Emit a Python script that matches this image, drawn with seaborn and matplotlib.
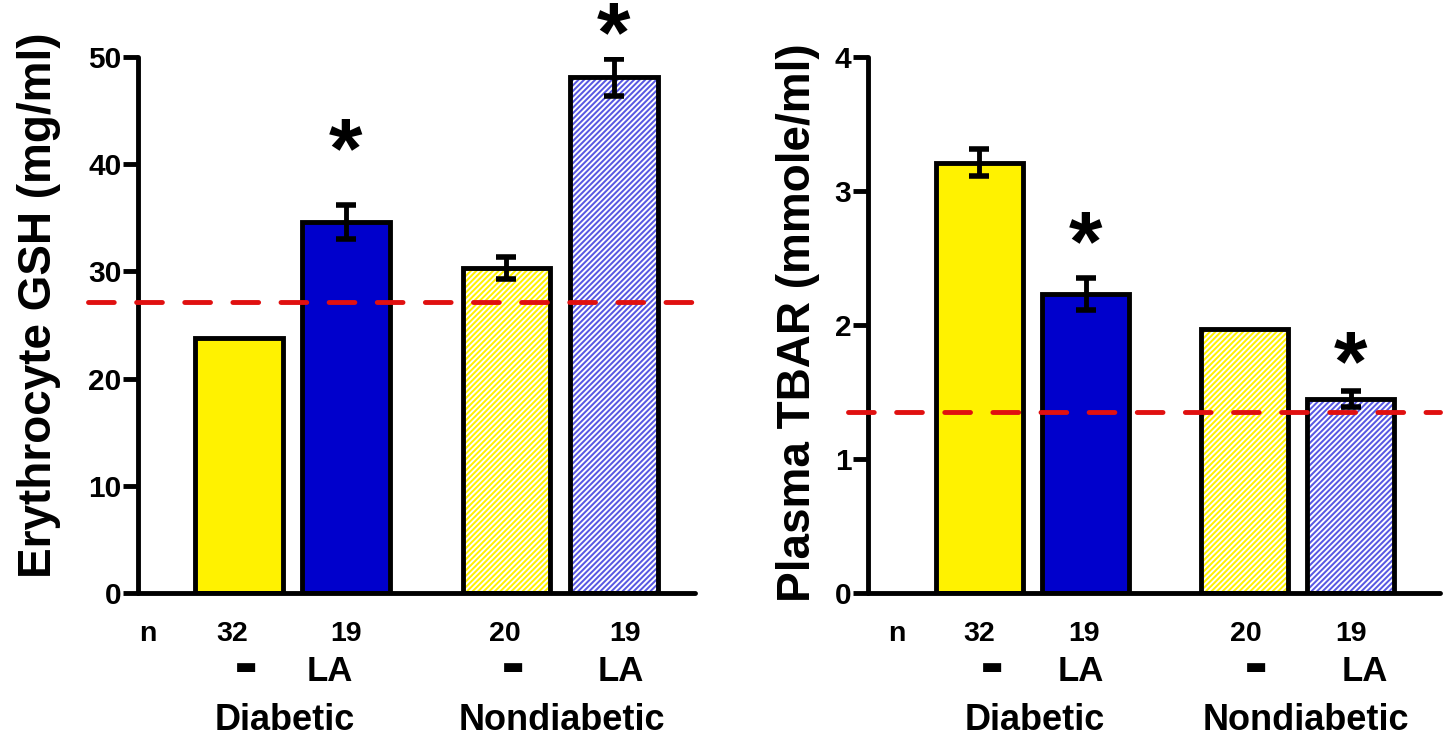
import numpy as np
import pandas as pd
import matplotlib
matplotlib.use("Agg")
import matplotlib.pyplot as plt
import matplotlib.transforms as mtransforms
import seaborn as sns

# data
groups = ["Diabetic", "Nondiabetic"]
treatment = ["-", "LA", "-", "LA"]
n_counts = ["32", "19", "20", "19"]
xpos = [0.0, 1.0, 2.5, 3.5]

gsh_mean = [23.8, 34.6, 30.3, 48.1]
gsh_sem = [0.0, 1.6, 1.0, 1.7]
gsh_ref = 27.1

tbar_mean = [3.21, 2.23, 1.97, 1.45]
tbar_sem = [0.10, 0.12, 0.0, 0.06]
tbar_ref = 1.35

bar_colors = ["#FFF200", "#0000CC", "#FFF200", "#5858E2"]
hatched = [False, False, True, True]

sns.set_style("ticks")
plt.rcParams["font.family"] = ["Liberation Sans", "DejaVu Sans"]
plt.rcParams["font.weight"] = "bold"
plt.rcParams["hatch.linewidth"] = 1.4
for k in ["text.color", "axes.labelcolor", "xtick.color", "ytick.color", "axes.edgecolor"]:
    plt.rcParams[k] = "black"

fig = plt.figure(figsize=(14.47, 7.39), dpi=100)
ax1 = fig.add_axes([138 / 1447, 1 - 593 / 739, (695 - 138) / 1447, (593 - 57) / 739])
ax2 = fig.add_axes([868 / 1447, 1 - 593 / 739, (1440 - 868) / 1447, (593 - 57) / 739])


def panel(ax, means, sems, ref, ymax, yticks, ylabel, xlim, ref_start, stars,
          lab_xy, n_x, num_dx, trt_dx, grp_x):
    df = pd.DataFrame({"x": xpos, "y": means, "c": range(4)})
    sns.barplot(data=df, x="x", y="y", hue="c", palette=bar_colors, native_scale=True,
                width=0.82, linewidth=0, saturation=1, legend=False, ax=ax)
    for p, h in zip(ax.patches, hatched):
        if h:
            p.set_hatch("//////")
            p.set_edgecolor("white")
            p.set_linewidth(0)
    sns.barplot(data=df, x="x", y="y", native_scale=True, width=0.82, fill=False,
                color="black", linewidth=3.5, ax=ax)
    for x, m, s in zip(xpos, means, sems):
        if s > 0:
            ax.errorbar(x, m, yerr=s, fmt="none", ecolor="black", elinewidth=3.5,
                        capsize=7, capthick=4, zorder=5)
    ax.plot([ref_start, xlim[1]], [ref, ref], color="#E01010", lw=3.5,
            linestyle=(0, (5.3, 4.6)), dash_capstyle="round", clip_on=False, zorder=6)
    fs = 62
    for i, sy in stars:
        ax.annotate("*", xy=(xpos[i], sy), xytext=(0, -0.45 * fs), textcoords="offset points",
                    fontsize=fs, fontweight="bold", ha="center", va="baseline",
                    annotation_clip=False)
    ax.set_xlim(*xlim)
    ax.set_ylim(0, ymax)
    ax.set_yticks(yticks)
    ax.set_yticklabels([str(t) for t in yticks], fontsize=21.5, fontweight="bold")
    ax.set_xticks([])
    ax.set_xlabel("")
    ax.set_ylabel(ylabel, fontsize=33, fontweight="bold")
    ax.yaxis.set_label_coords(*lab_xy)
    ax.tick_params(axis="y", width=3.5, length=11, pad=1)
    for side in ["top", "right"]:
        ax.spines[side].set_visible(False)
    for side in ["left", "bottom"]:
        ax.spines[side].set_linewidth(3.5)
        ax.spines[side].set_capstyle("round")

    tr = mtransforms.blended_transform_factory(ax.transData, ax.transAxes)
    ax.text(n_x, -0.0765, "n", transform=tr, fontsize=20.5, fontweight="bold",
            ha="center", va="center")
    for x, n, t, dn, dt in zip(xpos, n_counts, treatment, num_dx, trt_dx):
        ax.text(x + dn, -0.0765, n, transform=tr, fontsize=20.5, fontweight="bold",
                ha="center", va="center")
        if t == "-":
            ax.text(x + dt, -0.138, "\u25ac", transform=tr, fontsize=17,
                    family="DejaVu Sans", ha="center", va="center")
        else:
            ax.text(x + dt, -0.146, t, transform=tr, fontsize=25, fontweight="bold",
                    ha="center", va="center")
    for g, gx in zip(groups, grp_x):
        ax.text(gx, -0.237, g, transform=tr, fontsize=26, fontweight="bold",
                ha="center", va="center")


panel(ax1, gsh_mean, gsh_sem, gsh_ref, 50, [0, 10, 20, 30, 40, 50],
      "Erythrocyte GSH (mg/ml)", (-0.94, 4.26), -1.41,
      [(1, 42.4), (3, 53.2)], (-0.138, 0.537), -0.85,
      [-0.06, 0.0, -0.02, 0.11], [0.065, -0.15, 0.06, 0.07], [0.43, 3.02])
panel(ax2, tbar_mean, tbar_sem, tbar_ref, 4, [0, 1, 2, 3, 4],
      "Plasma TBAR (mmole/ml)", (-1.05, 4.34), -1.24,
      [(1, 2.70), (3, 1.80)], (-0.084, 0.504), -0.78,
      [0.0, -0.01, 0.01, 0.0], [0.12, -0.04, 0.11, 0.13], [0.52, 3.08])

fig.savefig("out.png", dpi=100)
